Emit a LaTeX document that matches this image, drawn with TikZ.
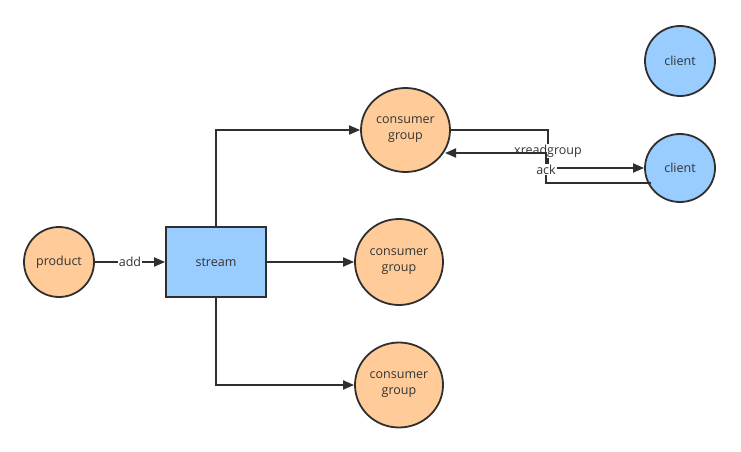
\documentclass[tikz,border=0pt]{standalone}
\usepackage{fontspec}
\setmainfont{Open Sans}
\usetikzlibrary{arrows.meta,shapes.geometric}
\definecolor{orangefill}{HTML}{FFCC99}
\definecolor{bluefill}{HTML}{99CCFF}
\definecolor{strokec}{HTML}{2F2F2F}
\definecolor{textc}{HTML}{333333}
\begin{document}
\begin{tikzpicture}[x=1pt,y=-1pt,
  every node/.style={font=\fontsize{12.5}{16}\selectfont,text=textc},
  orangecirc/.style={ellipse,draw=strokec,line width=1.8pt,fill=orangefill,inner sep=0pt},
  bluecirc/.style={ellipse,draw=strokec,line width=1.8pt,fill=bluefill,inner sep=0pt},
  conn/.style={draw=strokec,line width=1.8pt,-{Triangle[length=11pt,width=9pt]}},
  lbl/.style={fill=white,inner sep=1pt,font=\fontsize{12.5}{15}\selectfont}
]
\useasboundingbox (0,0) rectangle (741,452);
\node[bluecirc,minimum width=70pt,minimum height=70pt] (client1) at (680,61) {client};
\node[bluecirc,minimum width=70pt,minimum height=68pt] (client2) at (680,168) {client};
\node[orangecirc,minimum width=89pt,minimum height=84pt,align=center] (cg1) at (405.5,130) {consumer\\group};
\node[orangecirc,minimum width=88pt,minimum height=86pt,align=center] (cg2) at (399,262) {consumer\\group};
\node[orangecirc,minimum width=88pt,minimum height=85pt,align=center] (cg3) at (399,385) {consumer\\group};
\node[orangecirc,minimum width=70pt,minimum height=70pt] (product) at (59,262) {product};
\node[draw=strokec,line width=1.8pt,fill=bluefill,minimum width=100pt,minimum height=70pt,inner sep=0pt] (stream) at (216,262) {stream};

\coordinate (p1) at (216,130);
\coordinate (p3) at (216,385);
\draw[conn] (product) -- node[lbl] {add} (stream);
\draw[conn] (stream.north) -- (p1) -- (cg1.west);
\draw[conn] (stream.east) -- (cg2.west);
\draw[conn] (stream.south) -- (p3) -- (cg3.west);

\coordinate (a1) at (450,130);
\coordinate (a2) at (548,130);
\coordinate (a3) at (548,168);
\coordinate (b1) at (651,183);
\coordinate (b2) at (546,183);
\coordinate (b3) at (546,153);
\coordinate (b4) at (445,153);
\draw[conn] (a1) -- (a2) -- node[lbl,pos=0.55] {xreadgroup} (a3) -- (client2.west);
\draw[conn] (b1) -- (b2) -- node[lbl,pos=0.45] {ack} (b3) -- (b4);
\end{tikzpicture}
\end{document}
